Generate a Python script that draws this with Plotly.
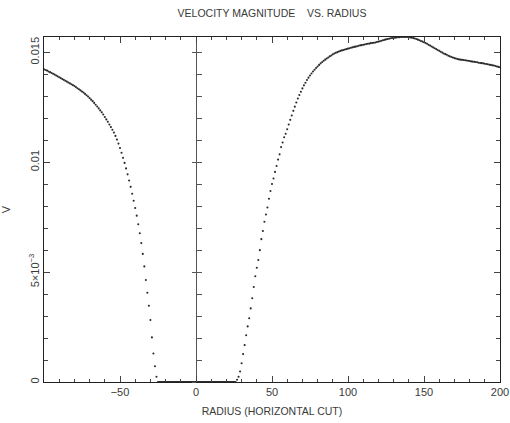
import plotly.graph_objects as go

# ---- data ----
left_x = list(range(-100, -25))
left_v = [
    0.01423, 0.01420, 0.01417, 0.01413, 0.01410, 0.01406, 0.01403, 0.01399, 0.01395, 0.01391,
    0.01387, 0.01383, 0.01379, 0.01375, 0.01371, 0.01367, 0.01363, 0.01359, 0.01355, 0.01351,
    0.01347, 0.01342, 0.01337, 0.01332, 0.01327, 0.01322, 0.01317, 0.01311, 0.01305, 0.01299,
    0.01292, 0.01285, 0.01278, 0.01270, 0.01262, 0.01254, 0.01245, 0.01236, 0.01227, 0.01217,
    0.01206, 0.01195, 0.01184, 0.01172, 0.01160, 0.01148, 0.01135, 0.01120, 0.01103, 0.01085,
    0.01065, 0.01043, 0.01020, 0.00997, 0.00972, 0.00945, 0.00917, 0.00888, 0.00857, 0.00825,
    0.00792, 0.00757, 0.00718, 0.00677, 0.00632, 0.00583, 0.00526, 0.00464, 0.00406, 0.00347,
    0.00282, 0.00203, 0.00130, 0.00072, 0.00024,
]
zero_x = [v * 0.5 for v in range(-50, 53)]
zero_v = [0.0] * len(zero_x)
right_x = list(range(27, 201))
right_v = [
    0.00010, 0.00024, 0.00048, 0.00085, 0.00127, 0.00168, 0.00213, 0.00253, 0.00290, 0.00335,
    0.00381, 0.00432, 0.00481, 0.00520, 0.00555, 0.00600, 0.00650, 0.00687, 0.00729, 0.00762,
    0.00794, 0.00834, 0.00869, 0.00901, 0.00926, 0.00956, 0.00983, 0.01012, 0.01036, 0.01069,
    0.01090, 0.01114, 0.01130, 0.01150, 0.01172, 0.01193, 0.01213, 0.01234, 0.01253, 0.01272,
    0.01290, 0.01306, 0.01321, 0.01336, 0.01350, 0.01362, 0.01374, 0.01385, 0.01395, 0.01404,
    0.01413, 0.01421, 0.01429, 0.01436, 0.01443, 0.01450, 0.01456, 0.01462, 0.01467, 0.01472,
    0.01477, 0.01482, 0.01486, 0.01491, 0.01495, 0.01498, 0.01501, 0.01504, 0.01507, 0.01509,
    0.01511, 0.01513, 0.01515, 0.01517, 0.01519, 0.01521, 0.01523, 0.01525, 0.01526, 0.01528,
    0.01530, 0.01532, 0.01533, 0.01535, 0.01536, 0.01538, 0.01539, 0.01540, 0.01542, 0.01543,
    0.01544, 0.01545, 0.01547, 0.01549, 0.01551, 0.01553, 0.01555, 0.01557, 0.01559, 0.01561,
    0.01562, 0.01564, 0.01565, 0.01566, 0.01567, 0.01568, 0.01569, 0.01569, 0.01570, 0.01570,
    0.01570, 0.01570, 0.01570, 0.01569, 0.01568, 0.01567, 0.01565, 0.01563, 0.01561, 0.01558,
    0.01555, 0.01552, 0.01549, 0.01546, 0.01543, 0.01539, 0.01535, 0.01531, 0.01527, 0.01523,
    0.01519, 0.01515, 0.01511, 0.01507, 0.01503, 0.01499, 0.01495, 0.01492, 0.01489, 0.01485,
    0.01482, 0.01479, 0.01477, 0.01474, 0.01472, 0.01470, 0.01468, 0.01467, 0.01466, 0.01465,
    0.01464, 0.01463, 0.01462, 0.01461, 0.01459, 0.01458, 0.01457, 0.01456, 0.01455, 0.01453,
    0.01452, 0.01451, 0.01450, 0.01448, 0.01447, 0.01446, 0.01444, 0.01443, 0.01441, 0.01440,
    0.01438, 0.01436, 0.01434, 0.01432,
]
x_ticks = [-50, 0, 50, 100, 150, 200]
x_ticklabels = ["\u221250", "0", "50", "100", "150", "200"]
y_ticks = [0, 0.005, 0.01, 0.015]
y_ticklabels = ["0", "5\u00d710<sup>\u22123</sup>", "0.01", "0.015"]

TXT = "#3a3a3a"
FONT = "Liberation Sans"
DOT = "#2a2a2a"

fig = go.Figure()
for xs, ys in [(left_x, left_v), (zero_x, zero_v), (right_x, right_v)]:
    fig.add_trace(go.Scatter(x=xs, y=ys, mode="markers", cliponaxis=False,
                             marker=dict(size=2.1, color=DOT, line=dict(width=0)),
                             showlegend=False, hoverinfo="skip"))
# empty traces to hold the centre axis (x = 0)
fig.add_trace(go.Scatter(x=[None], y=[None], yaxis="y2", showlegend=False, hoverinfo="skip"))
fig.add_trace(go.Scatter(x=[None], y=[None], yaxis="y3", showlegend=False, hoverinfo="skip"))

yr = [0, 0.0157]
xr = [-100, 200]
xpos0 = (0 - xr[0]) / (xr[1] - xr[0])

fig.update_layout(
    width=510, height=423,
    margin=dict(l=44, r=10, t=37, b=41),
    paper_bgcolor="white", plot_bgcolor="white",
    font=dict(family=FONT, size=11, color=TXT),
    title=dict(text="VELOCITY MAGNITUDE\u00a0\u00a0\u00a0\u00a0VS. RADIUS",
               x=0.5, xref="paper", xanchor="center",
               y=1 - 13 / 423, yref="container", yanchor="middle",
               font=dict(family=FONT, size=10.5, color=TXT)),
    xaxis=dict(range=xr, showgrid=False, zeroline=False, automargin=False,
               showline=True, linecolor="#222", linewidth=1, mirror="ticks",
               ticks="inside", ticklen=6, tickcolor="#444", tickwidth=1,
               tickvals=x_ticks, ticktext=x_ticklabels,
               minor=dict(dtick=10, tick0=0, ticks="inside", ticklen=3, tickcolor="#444", showgrid=False),
               title=dict(text="RADIUS (HORIZONTAL CUT)", standoff=10,
                          font=dict(family=FONT, size=10.5, color=TXT)),
               tickfont=dict(family=FONT, size=11, color=TXT)),
    yaxis=dict(range=yr, showgrid=False, zeroline=False, automargin=False,
               showline=True, linecolor="#222", linewidth=1, mirror="ticks",
               ticks="inside", ticklen=6, tickcolor="#444", tickwidth=1,
               tickvals=y_ticks, ticktext=y_ticklabels, tickangle=-90,
               minor=dict(dtick=0.001, tick0=0, ticks="inside", ticklen=4, tickcolor="#444", showgrid=False),
               title=dict(text="V", standoff=14, font=dict(family=FONT, size=11, color=TXT)),
               tickfont=dict(family=FONT, size=11, color=TXT)),
    yaxis2=dict(range=yr, overlaying="y", anchor="free", position=xpos0, side="left",
                showgrid=False, zeroline=False, showline=True, linecolor="#555", linewidth=1,
                ticks="inside", ticklen=5, tickcolor="#555", tickvals=y_ticks,
                showticklabels=False, automargin=False,
                minor=dict(dtick=0.001, tick0=0, ticks="inside", ticklen=5, tickcolor="#555", showgrid=False)),
    yaxis3=dict(range=yr, overlaying="y", anchor="free", position=xpos0, side="left",
                showgrid=False, zeroline=False, showline=False,
                ticks="outside", ticklen=4, tickcolor="#555", tickvals=y_ticks,
                showticklabels=False, automargin=False),
)

fig.write_html("out.html")
